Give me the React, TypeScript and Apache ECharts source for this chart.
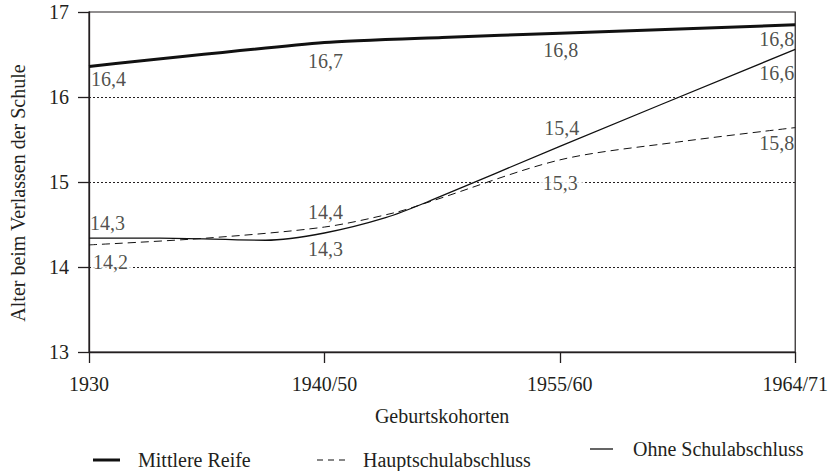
import React, { useEffect, useRef } from "react";
import * as echarts from "echarts";

const categories = ["1930", "1940/50", "1955/60", "1964/71"];
const yTicks = [13, 14, 15, 16, 17];

const seriesNames = ["Mittlere Reife", "Hauptschulabschluss", "Ohne Schulabschluss"];

// line traces: [cohort position, age]
const mittlereLine = [[0, 16.36], [1, 16.64], [1.5, 16.7], [2, 16.75], [3, 16.85]];
const hauptLine = [[0, 14.26], [0.5, 14.34], [1, 14.47], [1.3, 14.64], [1.45, 14.77], [2, 15.26], [2.5, 15.47], [3, 15.64]];
const ohneLine = [[0, 14.34], [0.3, 14.34], [0.75, 14.315], [1, 14.4], [1.26, 14.58], [1.45, 14.78], [2, 15.42], [3, 16.56]];

// printed values per cohort
const mittlereLabels = [16.4, 16.7, 16.8, 16.8];
const hauptLabels = [14.2, 14.4, 15.3, 15.8];
const ohneLabels = [14.3, 14.3, 15.4, 16.6];

const FONT = "Liberation Serif";
const INK = "#231f20";

const fmt = (v: number) => v.toFixed(1).replace(".", ",");
const valueAt = (line: number[][], i: number) => {
  const p = line.find((q) => q[0] === i);
  return p ? p[1] : 0;
};

type LabelStyle = { offset: number[]; align: string; bg?: boolean };

const mittlereStyles: LabelStyle[] = [
  { offset: [2, 13], align: "left" },
  { offset: [1, 18], align: "center" },
  { offset: [1, 17], align: "center" },
  { offset: [-1, 14], align: "right" },
];
const hauptStyles: LabelStyle[] = [
  { offset: [2, 17], align: "left", bg: true },
  { offset: [1, -15], align: "center" },
  { offset: [2, 23], align: "center", bg: true },
  { offset: [-1, 15], align: "right" },
];
const ohneStyles: LabelStyle[] = [
  { offset: [1, -15], align: "left" },
  { offset: [1, 16], align: "center" },
  { offset: [2, -18], align: "center" },
  { offset: [-1, 24], align: "right" },
];

function labelSeries(line: number[][], labels: number[], styles: LabelStyle[]) {
  return {
    type: "scatter",
    symbolSize: 0,
    silent: true,
    z: 5,
    data: labels.map((v, i) => ({
      value: [i, valueAt(line, i), v],
      label: {
        show: true,
        position: "inside",
        offset: styles[i].offset,
        align: styles[i].align,
        verticalAlign: "middle",
        formatter: fmt(v),
        fontFamily: FONT,
        fontSize: 20,
        color: INK,
        backgroundColor: styles[i].bg ? "#ffffff" : "transparent",
        padding: styles[i].bg ? [0, 5, 0, 2] : 0,
      },
    })),
  };
}

export default function App() {
  const ref = useRef<HTMLDivElement>(null);

  useEffect(() => {
    if (!ref.current) return;
    const chart = echarts.init(ref.current, undefined, { renderer: "svg" });
    const textStyle = { fontFamily: FONT, fontSize: 20, color: INK };
    chart.setOption({
      animation: false,
      backgroundColor: "#ffffff",
      textStyle,
      grid: {
        left: 83,
        right: 33,
        top: 12,
        bottom: 119,
        show: true,
        borderColor: INK,
        borderWidth: 1.2,
        backgroundColor: "transparent",
      },
      xAxis: {
        type: "value",
        min: 0,
        max: 3,
        interval: 1,
        name: "Geburtskohorten",
        nameLocation: "middle",
        nameGap: 54,
        nameTextStyle: textStyle,
        axisLine: { show: true, lineStyle: { color: INK, width: 1.3 } },
        axisTick: { show: true, length: 11, lineStyle: { color: INK, width: 1.3 } },
        axisLabel: {
          ...textStyle,
          margin: 22,
          showMaxLabel: true,
          showMinLabel: true,
          formatter: (v: number) => categories[Math.round(v)] ?? "",
        },
        splitLine: { show: false },
      },
      yAxis: {
        type: "value",
        min: yTicks[0],
        max: yTicks[yTicks.length - 1],
        interval: 1,
        name: "Alter beim Verlassen der Schule",
        nameLocation: "middle",
        nameGap: 61,
        nameTextStyle: { ...textStyle, padding: [0, 22, 0, 0] },
        axisLine: { show: true, lineStyle: { color: INK, width: 1.3 } },
        axisTick: { show: true, length: 11, lineStyle: { color: INK, width: 1.3 } },
        axisLabel: { ...textStyle, margin: 20 },
        splitLine: {
          show: true,
          lineStyle: {
            color: ["transparent", INK, INK, INK, "transparent"],
            width: 1,
            type: [2, 2],
          },
        },
      },
      legend: [
        {
          data: [seriesNames[0]],
          left: 88,
          top: 445,
          icon: "rect",
          itemWidth: 27,
          itemHeight: 3,
          itemStyle: { color: "#111" },
          textStyle: { ...textStyle, padding: [0, 0, 0, 13] },
        },
        {
          data: [seriesNames[1]],
          left: 312,
          top: 445,
          icon: "path://M0,0H6V1H0Z M11,0H17V1H11Z M22,0H28V1H22Z",
          itemWidth: 28,
          itemHeight: 1.2,
          itemStyle: { color: "#111" },
          textStyle: { ...textStyle, padding: [0, 0, 0, 13] },
        },
        {
          data: [seriesNames[2]],
          left: 585,
          top: 434,
          icon: "rect",
          itemWidth: 23,
          itemHeight: 1.3,
          itemStyle: { color: "#111" },
          textStyle: { ...textStyle, padding: [0, 0, 0, 15] },
        },
      ],
      series: [
        {
          name: seriesNames[0],
          type: "line",
          data: mittlereLine,
          symbol: "none",
          smooth: 0.2,
          lineStyle: { color: "#111", width: 3 },
          itemStyle: { color: "#111" },
          z: 3,
        },
        {
          name: seriesNames[1],
          type: "line",
          data: hauptLine,
          symbol: "none",
          smooth: 0.3,
          lineStyle: { color: "#111", width: 1, type: [8, 5] },
          itemStyle: { color: "#111" },
          z: 3,
        },
        {
          name: seriesNames[2],
          type: "line",
          data: ohneLine,
          symbol: "none",
          smooth: 0.3,
          lineStyle: { color: "#111", width: 1.3 },
          itemStyle: { color: "#111" },
          z: 3,
        },
        labelSeries(mittlereLine, mittlereLabels, mittlereStyles),
        labelSeries(hauptLine, hauptLabels, hauptStyles),
        labelSeries(ohneLine, ohneLabels, ohneStyles),
      ],
    });
    return () => chart.dispose();
  }, []);

  return (
    <div
      ref={ref}
      style={{ position: "absolute", left: 0, top: 0, width: 831, height: 471 }}
    />
  );
}
